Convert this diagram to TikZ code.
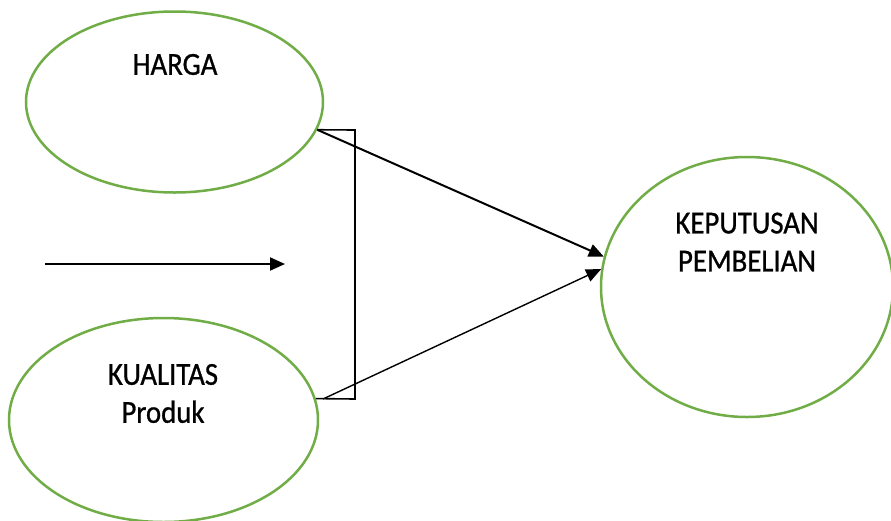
\documentclass[tikz,border=0pt]{standalone}
\usepackage{fontspec}
\setmainfont{Carlito}[FakeStretch=0.9,FakeBold=0.8]
\usepackage{xcolor}
\usepackage{tikz}
\usetikzlibrary{shapes.geometric,arrows.meta,positioning}
\definecolor{hijau}{HTML}{70AD47}
\tikzstyle{oval} = [ellipse, draw=hijau, line width=2.5pt, inner sep=0pt]
\tikzstyle{teks} = [align=center, font=\fontsize{32}{38}\selectfont, inner sep=0pt]
\tikzstyle{garis} = [line width=1.6pt]
\tikzstyle{panah1} = [line width=2pt,-{Triangle[length=15pt,width=13pt]}]
\tikzstyle{panah2} = [line width=1.4pt,-{Triangle[length=15pt,width=13pt]}]

\begin{document}
\begin{tikzpicture}[x=1pt,y=-1pt]
	\useasboundingbox (0,0) rectangle (891,520);
	% elips variabel
	\node (harga) [oval, minimum width=297pt, minimum height=181pt] at (174.5,102) {};
	\node (kualitas) [oval, minimum width=309pt, minimum height=204pt] at (163.5,420) {};
	\node (keputusan) [oval, minimum width=292pt, minimum height=260pt] at (747,287) {};

	% teks di dalam elips
	\node (hargatxt) [teks] at (175,64.5) {HARGA};
	\node (kualitastxt) [teks] at (163,393.5) {KUALITAS\\Produk};
	\node (keputusantxt) [teks] at (747,242) {KEPUTUSAN\\PEMBELIAN};

	% titik bantu
	\coordinate (brtop) at (355,130);
	\coordinate (brbot) at (355,399);
	\coordinate (lowstart) at (323,399);
	\coordinate (kiri) at (45,264);
	\coordinate (kanan) at (285,264);

	% garis koneksi
	\draw [garis] (harga.-11) -- (brtop) -- (brbot) -- (kualitas.8);
	\draw [panah1] (harga.-11) -- (keputusan.168);
	\draw [panah2] (lowstart) -- (keputusan.173);
	\draw [panah1] (kiri) -- (kanan);
\end{tikzpicture}
\end{document}
